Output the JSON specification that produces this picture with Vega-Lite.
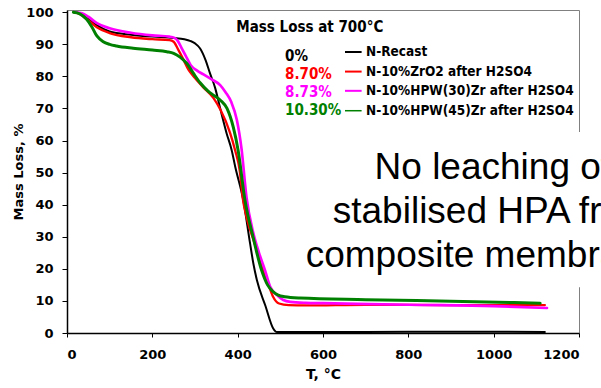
{
  "$schema": "https://vega.github.io/schema/vega-lite/v6.json",
  "width": 512,
  "height": 323,
  "autosize": {"type": "none"},
  "padding": {"left": 67, "top": 10, "right": 22, "bottom": 55},
  "background": "white",
  "config": {
    "view": {"stroke": "#808080", "strokeWidth": 1},
    "axis": {
      "grid": false,
      "domainColor": "black",
      "domainWidth": 1.5,
      "tickColor": "black",
      "tickWidth": 1,
      "labelColor": "black",
      "titleColor": "black",
      "labelFont": "DejaVu Sans",
      "labelFontWeight": "bold",
      "labelFontSize": 13,
      "titleFont": "DejaVu Sans",
      "titleFontWeight": "bold"
    },
    "axisX": {"tickSize": 4, "labelPadding": 11, "titleFontSize": 14, "titlePadding": 6},
    "axisY": {"tickSize": 5, "labelPadding": 9, "titleFontSize": 13, "titlePadding": 0}
  },
  "datasets": {
    "tga": [
      {"series": "N-Recast", "T": 15, "m": 100}, {"series": "N-Recast", "T": 30, "m": 99.6}, {"series": "N-Recast", "T": 50, "m": 97.9}, {"series": "N-Recast", "T": 70, "m": 96}, {"series": "N-Recast", "T": 100, "m": 94}, {"series": "N-Recast", "T": 150, "m": 93}, {"series": "N-Recast", "T": 200, "m": 92.4}, {"series": "N-Recast", "T": 250, "m": 92}, {"series": "N-Recast", "T": 275, "m": 91.6}, {"series": "N-Recast", "T": 290, "m": 91}, {"series": "N-Recast", "T": 300, "m": 90.3}, {"series": "N-Recast", "T": 312, "m": 88.7}, {"series": "N-Recast", "T": 325, "m": 85}, {"series": "N-Recast", "T": 335, "m": 81}, {"series": "N-Recast", "T": 347, "m": 76.5}, {"series": "N-Recast", "T": 360, "m": 69.5}, {"series": "N-Recast", "T": 374, "m": 62.3}, {"series": "N-Recast", "T": 386, "m": 57}, {"series": "N-Recast", "T": 394, "m": 52}, {"series": "N-Recast", "T": 413, "m": 41.5}, {"series": "N-Recast", "T": 429, "m": 28}, {"series": "N-Recast", "T": 437, "m": 21.5}, {"series": "N-Recast", "T": 445, "m": 16.5}, {"series": "N-Recast", "T": 465, "m": 8.5}, {"series": "N-Recast", "T": 483, "m": 1.5}, {"series": "N-Recast", "T": 492, "m": 0.3}, {"series": "N-Recast", "T": 600, "m": 0.3}, {"series": "N-Recast", "T": 800, "m": 0.4}, {"series": "N-Recast", "T": 1000, "m": 0.4}, {"series": "N-Recast", "T": 1120, "m": 0.3},
      {"series": "N-10%ZrO2 after H2SO4", "T": 18, "m": 100}, {"series": "N-10%ZrO2 after H2SO4", "T": 30, "m": 99.5}, {"series": "N-10%ZrO2 after H2SO4", "T": 50, "m": 97.5}, {"series": "N-10%ZrO2 after H2SO4", "T": 70, "m": 95.3}, {"series": "N-10%ZrO2 after H2SO4", "T": 100, "m": 93.5}, {"series": "N-10%ZrO2 after H2SO4", "T": 150, "m": 92.2}, {"series": "N-10%ZrO2 after H2SO4", "T": 200, "m": 91.6}, {"series": "N-10%ZrO2 after H2SO4", "T": 240, "m": 91.3}, {"series": "N-10%ZrO2 after H2SO4", "T": 250, "m": 90.8}, {"series": "N-10%ZrO2 after H2SO4", "T": 260, "m": 88.5}, {"series": "N-10%ZrO2 after H2SO4", "T": 270, "m": 86}, {"series": "N-10%ZrO2 after H2SO4", "T": 285, "m": 82}, {"series": "N-10%ZrO2 after H2SO4", "T": 300, "m": 79.5}, {"series": "N-10%ZrO2 after H2SO4", "T": 320, "m": 76.5}, {"series": "N-10%ZrO2 after H2SO4", "T": 343, "m": 73.3}, {"series": "N-10%ZrO2 after H2SO4", "T": 360, "m": 69.5}, {"series": "N-10%ZrO2 after H2SO4", "T": 382, "m": 62.5}, {"series": "N-10%ZrO2 after H2SO4", "T": 394, "m": 57}, {"series": "N-10%ZrO2 after H2SO4", "T": 405, "m": 50.5}, {"series": "N-10%ZrO2 after H2SO4", "T": 412, "m": 42}, {"series": "N-10%ZrO2 after H2SO4", "T": 421, "m": 36}, {"series": "N-10%ZrO2 after H2SO4", "T": 437, "m": 29}, {"series": "N-10%ZrO2 after H2SO4", "T": 452, "m": 23}, {"series": "N-10%ZrO2 after H2SO4", "T": 470, "m": 16}, {"series": "N-10%ZrO2 after H2SO4", "T": 483, "m": 11.3}, {"series": "N-10%ZrO2 after H2SO4", "T": 497, "m": 9.2}, {"series": "N-10%ZrO2 after H2SO4", "T": 520, "m": 8.7}, {"series": "N-10%ZrO2 after H2SO4", "T": 560, "m": 8.6}, {"series": "N-10%ZrO2 after H2SO4", "T": 700, "m": 8.8}, {"series": "N-10%ZrO2 after H2SO4", "T": 900, "m": 8.7}, {"series": "N-10%ZrO2 after H2SO4", "T": 1120, "m": 8.7},
      {"series": "N-10%HPW(30)Zr after H2SO4", "T": 20, "m": 100}, {"series": "N-10%HPW(30)Zr after H2SO4", "T": 35, "m": 99.7}, {"series": "N-10%HPW(30)Zr after H2SO4", "T": 50, "m": 98.6}, {"series": "N-10%HPW(30)Zr after H2SO4", "T": 70, "m": 96.6}, {"series": "N-10%HPW(30)Zr after H2SO4", "T": 100, "m": 95}, {"series": "N-10%HPW(30)Zr after H2SO4", "T": 150, "m": 93.6}, {"series": "N-10%HPW(30)Zr after H2SO4", "T": 200, "m": 92.8}, {"series": "N-10%HPW(30)Zr after H2SO4", "T": 240, "m": 92.4}, {"series": "N-10%HPW(30)Zr after H2SO4", "T": 252, "m": 92}, {"series": "N-10%HPW(30)Zr after H2SO4", "T": 260, "m": 91}, {"series": "N-10%HPW(30)Zr after H2SO4", "T": 268, "m": 89}, {"series": "N-10%HPW(30)Zr after H2SO4", "T": 278, "m": 86.5}, {"series": "N-10%HPW(30)Zr after H2SO4", "T": 290, "m": 83.5}, {"series": "N-10%HPW(30)Zr after H2SO4", "T": 305, "m": 81.8}, {"series": "N-10%HPW(30)Zr after H2SO4", "T": 320, "m": 80.6}, {"series": "N-10%HPW(30)Zr after H2SO4", "T": 340, "m": 79}, {"series": "N-10%HPW(30)Zr after H2SO4", "T": 359, "m": 77.3}, {"series": "N-10%HPW(30)Zr after H2SO4", "T": 372, "m": 75}, {"series": "N-10%HPW(30)Zr after H2SO4", "T": 385, "m": 72}, {"series": "N-10%HPW(30)Zr after H2SO4", "T": 398, "m": 66.5}, {"series": "N-10%HPW(30)Zr after H2SO4", "T": 409, "m": 57.5}, {"series": "N-10%HPW(30)Zr after H2SO4", "T": 421, "m": 42}, {"series": "N-10%HPW(30)Zr after H2SO4", "T": 437, "m": 31}, {"series": "N-10%HPW(30)Zr after H2SO4", "T": 450, "m": 25}, {"series": "N-10%HPW(30)Zr after H2SO4", "T": 464, "m": 19.6}, {"series": "N-10%HPW(30)Zr after H2SO4", "T": 476, "m": 14.5}, {"series": "N-10%HPW(30)Zr after H2SO4", "T": 492, "m": 11.8}, {"series": "N-10%HPW(30)Zr after H2SO4", "T": 507, "m": 10.3}, {"series": "N-10%HPW(30)Zr after H2SO4", "T": 523, "m": 9.7}, {"series": "N-10%HPW(30)Zr after H2SO4", "T": 560, "m": 9.4}, {"series": "N-10%HPW(30)Zr after H2SO4", "T": 600, "m": 9.3}, {"series": "N-10%HPW(30)Zr after H2SO4", "T": 800, "m": 8.8}, {"series": "N-10%HPW(30)Zr after H2SO4", "T": 1000, "m": 8.4}, {"series": "N-10%HPW(30)Zr after H2SO4", "T": 1125, "m": 7.8},
      {"series": "N-10%HPW(45)Zr after H2SO4", "T": 15, "m": 100}, {"series": "N-10%HPW(45)Zr after H2SO4", "T": 30, "m": 99.5}, {"series": "N-10%HPW(45)Zr after H2SO4", "T": 46, "m": 97.8}, {"series": "N-10%HPW(45)Zr after H2SO4", "T": 58, "m": 95.5}, {"series": "N-10%HPW(45)Zr after H2SO4", "T": 70, "m": 92.6}, {"series": "N-10%HPW(45)Zr after H2SO4", "T": 85, "m": 90.8}, {"series": "N-10%HPW(45)Zr after H2SO4", "T": 100, "m": 90}, {"series": "N-10%HPW(45)Zr after H2SO4", "T": 116, "m": 89.5}, {"series": "N-10%HPW(45)Zr after H2SO4", "T": 155, "m": 88.8}, {"series": "N-10%HPW(45)Zr after H2SO4", "T": 200, "m": 88.2}, {"series": "N-10%HPW(45)Zr after H2SO4", "T": 234, "m": 87.7}, {"series": "N-10%HPW(45)Zr after H2SO4", "T": 250, "m": 87.2}, {"series": "N-10%HPW(45)Zr after H2SO4", "T": 265, "m": 86}, {"series": "N-10%HPW(45)Zr after H2SO4", "T": 281, "m": 84}, {"series": "N-10%HPW(45)Zr after H2SO4", "T": 296, "m": 81}, {"series": "N-10%HPW(45)Zr after H2SO4", "T": 312, "m": 78}, {"series": "N-10%HPW(45)Zr after H2SO4", "T": 330, "m": 75.5}, {"series": "N-10%HPW(45)Zr after H2SO4", "T": 345, "m": 74}, {"series": "N-10%HPW(45)Zr after H2SO4", "T": 360, "m": 72.5}, {"series": "N-10%HPW(45)Zr after H2SO4", "T": 375, "m": 70}, {"series": "N-10%HPW(45)Zr after H2SO4", "T": 390, "m": 64}, {"series": "N-10%HPW(45)Zr after H2SO4", "T": 401, "m": 57}, {"series": "N-10%HPW(45)Zr after H2SO4", "T": 417, "m": 41.5}, {"series": "N-10%HPW(45)Zr after H2SO4", "T": 436, "m": 30}, {"series": "N-10%HPW(45)Zr after H2SO4", "T": 456, "m": 19.6}, {"series": "N-10%HPW(45)Zr after H2SO4", "T": 470, "m": 15}, {"series": "N-10%HPW(45)Zr after H2SO4", "T": 482, "m": 13}, {"series": "N-10%HPW(45)Zr after H2SO4", "T": 495, "m": 11.8}, {"series": "N-10%HPW(45)Zr after H2SO4", "T": 510, "m": 11.3}, {"series": "N-10%HPW(45)Zr after H2SO4", "T": 546, "m": 10.9}, {"series": "N-10%HPW(45)Zr after H2SO4", "T": 700, "m": 10.4}, {"series": "N-10%HPW(45)Zr after H2SO4", "T": 900, "m": 9.9}, {"series": "N-10%HPW(45)Zr after H2SO4", "T": 1109, "m": 9.3}
    ],
    "one": [{}]
  },
  "layer": [
    {
      "data": {"name": "tga"},
      "mark": {"type": "line", "interpolate": "monotone", "strokeCap": "round", "strokeJoin": "round"},
      "encoding": {
        "x": {"field": "T", "type": "quantitative", "scale": {"domain": [0, 1200], "nice": false},
          "axis": {"values": [0, 200, 400, 600, 800, 1000, 1200], "format": "d", "title": "T, °C"}},
        "y": {"field": "m", "type": "quantitative", "scale": {"domain": [0, 100.7], "nice": false},
          "axis": {"values": [0, 10, 20, 30, 40, 50, 60, 70, 80, 90, 100], "format": "d", "title": "Mass Loss, %"}},
        "color": {"field": "series", "type": "nominal", "legend": null,
          "scale": {"domain": ["N-Recast", "N-10%ZrO2 after H2SO4", "N-10%HPW(30)Zr after H2SO4", "N-10%HPW(45)Zr after H2SO4"], "range": ["#000000", "#FF0000", "#FF00FF", "#008000"]}},
        "strokeWidth": {"field": "series", "type": "nominal", "legend": null,
          "scale": {"domain": ["N-Recast", "N-10%ZrO2 after H2SO4", "N-10%HPW(30)Zr after H2SO4", "N-10%HPW(45)Zr after H2SO4"], "range": [2, 3, 3, 1.6]}}
      }
    },
    {
      "data": {"name": "one"},
      "mark": {"type": "rect", "fill": "white"},
      "encoding": {
        "x": {"datum": 546, "type": "quantitative", "axis": {"values": [0, 200, 400, 600, 800, 1000, 1200], "format": "d", "title": "T, °C"}},
        "x2": {"datum": 1400},
        "y": {"datum": 62.7, "type": "quantitative", "axis": {"values": [0, 10, 20, 30, 40, 50, 60, 70, 80, 90, 100], "format": "d", "title": "Mass Loss, %"}},
        "y2": {"datum": 14.3}
      }
    },
    {
      "data": {"name": "one"},
      "mark": {"type": "text", "font": "Liberation Sans", "fontSize": 37, "align": "center", "baseline": "alphabetic", "lineHeight": 44, "color": "black"},
      "encoding": {
        "x": {"datum": 998, "type": "quantitative", "axis": {"values": [0, 200, 400, 600, 800, 1000, 1200], "format": "d", "title": "T, °C"}},
        "y": {"datum": 48, "type": "quantitative", "axis": {"values": [0, 10, 20, 30, 40, 50, 60, 70, 80, 90, 100], "format": "d", "title": "Mass Loss, %"}},
        "text": {"value": ["No leaching of", "stabilised HPA from", "composite membranes"]}
      }
    },
    {
      "data": {"name": "one"},
      "mark": {"type": "text", "font": "DejaVu Sans Condensed", "fontWeight": "bold", "fontSize": 15, "align": "center", "baseline": "middle", "color": "black"},
      "encoding": {
        "x": {"datum": 569, "type": "quantitative", "axis": {"values": [0, 200, 400, 600, 800, 1000, 1200], "format": "d", "title": "T, °C"}},
        "y": {"datum": 95.3, "type": "quantitative", "axis": {"values": [0, 10, 20, 30, 40, 50, 60, 70, 80, 90, 100], "format": "d", "title": "Mass Loss, %"}},
        "text": {"value": "Mass Loss at 700°C"}
      }
    },
    {
      "data": {"name": "one"},
      "mark": {"type": "text", "font": "DejaVu Sans Condensed", "fontWeight": "bold", "fontSize": 15, "align": "left", "baseline": "middle", "color": "#000000"},
      "encoding": {
        "x": {"datum": 511, "type": "quantitative", "axis": {"values": [0, 200, 400, 600, 800, 1000, 1200], "format": "d", "title": "T, °C"}},
        "y": {"datum": 86.3, "type": "quantitative", "axis": {"values": [0, 10, 20, 30, 40, 50, 60, 70, 80, 90, 100], "format": "d", "title": "Mass Loss, %"}},
        "text": {"value": "0%"}
      }
    },
    {
      "data": {"name": "one"},
      "mark": {"type": "text", "font": "DejaVu Sans Condensed", "fontWeight": "bold", "fontSize": 15, "align": "left", "baseline": "middle", "color": "#FF0000"},
      "encoding": {
        "x": {"datum": 511, "type": "quantitative", "axis": {"values": [0, 200, 400, 600, 800, 1000, 1200], "format": "d", "title": "T, °C"}},
        "y": {"datum": 80.7, "type": "quantitative", "axis": {"values": [0, 10, 20, 30, 40, 50, 60, 70, 80, 90, 100], "format": "d", "title": "Mass Loss, %"}},
        "text": {"value": "8.70%"}
      }
    },
    {
      "data": {"name": "one"},
      "mark": {"type": "text", "font": "DejaVu Sans Condensed", "fontWeight": "bold", "fontSize": 15, "align": "left", "baseline": "middle", "color": "#FF00FF"},
      "encoding": {
        "x": {"datum": 511, "type": "quantitative", "axis": {"values": [0, 200, 400, 600, 800, 1000, 1200], "format": "d", "title": "T, °C"}},
        "y": {"datum": 75.0, "type": "quantitative", "axis": {"values": [0, 10, 20, 30, 40, 50, 60, 70, 80, 90, 100], "format": "d", "title": "Mass Loss, %"}},
        "text": {"value": "8.73%"}
      }
    },
    {
      "data": {"name": "one"},
      "mark": {"type": "text", "font": "DejaVu Sans Condensed", "fontWeight": "bold", "fontSize": 15, "align": "left", "baseline": "middle", "color": "#008000"},
      "encoding": {
        "x": {"datum": 511, "type": "quantitative", "axis": {"values": [0, 200, 400, 600, 800, 1000, 1200], "format": "d", "title": "T, °C"}},
        "y": {"datum": 69.6, "type": "quantitative", "axis": {"values": [0, 10, 20, 30, 40, 50, 60, 70, 80, 90, 100], "format": "d", "title": "Mass Loss, %"}},
        "text": {"value": "10.30%"}
      }
    },
    {
      "data": {"name": "one"},
      "mark": {"type": "rule", "color": "#000000", "strokeWidth": 2},
      "encoding": {
        "x": {"datum": 651.5, "type": "quantitative", "axis": {"values": [0, 200, 400, 600, 800, 1000, 1200], "format": "d", "title": "T, °C"}},
        "x2": {"datum": 690.5},
        "y": {"datum": 87.6, "type": "quantitative", "axis": {"values": [0, 10, 20, 30, 40, 50, 60, 70, 80, 90, 100], "format": "d", "title": "Mass Loss, %"}}
      }
    },
    {
      "data": {"name": "one"},
      "mark": {"type": "rule", "color": "#FF0000", "strokeWidth": 2},
      "encoding": {
        "x": {"datum": 651.5, "type": "quantitative", "axis": {"values": [0, 200, 400, 600, 800, 1000, 1200], "format": "d", "title": "T, °C"}},
        "x2": {"datum": 690.5},
        "y": {"datum": 81.5, "type": "quantitative", "axis": {"values": [0, 10, 20, 30, 40, 50, 60, 70, 80, 90, 100], "format": "d", "title": "Mass Loss, %"}}
      }
    },
    {
      "data": {"name": "one"},
      "mark": {"type": "rule", "color": "#FF00FF", "strokeWidth": 2},
      "encoding": {
        "x": {"datum": 651.5, "type": "quantitative", "axis": {"values": [0, 200, 400, 600, 800, 1000, 1200], "format": "d", "title": "T, °C"}},
        "x2": {"datum": 690.5},
        "y": {"datum": 75.5, "type": "quantitative", "axis": {"values": [0, 10, 20, 30, 40, 50, 60, 70, 80, 90, 100], "format": "d", "title": "Mass Loss, %"}}
      }
    },
    {
      "data": {"name": "one"},
      "mark": {"type": "rule", "color": "#008000", "strokeWidth": 1.5},
      "encoding": {
        "x": {"datum": 651.5, "type": "quantitative", "axis": {"values": [0, 200, 400, 600, 800, 1000, 1200], "format": "d", "title": "T, °C"}},
        "x2": {"datum": 690.5},
        "y": {"datum": 69.3, "type": "quantitative", "axis": {"values": [0, 10, 20, 30, 40, 50, 60, 70, 80, 90, 100], "format": "d", "title": "Mass Loss, %"}}
      }
    },
    {
      "data": {"name": "one"},
      "mark": {"type": "text", "font": "DejaVu Sans Condensed", "fontWeight": "bold", "fontSize": 13.5, "align": "left", "baseline": "middle", "color": "black"},
      "encoding": {
        "x": {"datum": 700.7, "type": "quantitative", "axis": {"values": [0, 200, 400, 600, 800, 1000, 1200], "format": "d", "title": "T, °C"}},
        "y": {"datum": 87.5, "type": "quantitative", "axis": {"values": [0, 10, 20, 30, 40, 50, 60, 70, 80, 90, 100], "format": "d", "title": "Mass Loss, %"}},
        "text": {"value": "N-Recast"}
      }
    },
    {
      "data": {"name": "one"},
      "mark": {"type": "text", "font": "DejaVu Sans Condensed", "fontWeight": "bold", "fontSize": 13.5, "align": "left", "baseline": "middle", "color": "black"},
      "encoding": {
        "x": {"datum": 700.7, "type": "quantitative", "axis": {"values": [0, 200, 400, 600, 800, 1000, 1200], "format": "d", "title": "T, °C"}},
        "y": {"datum": 81.4, "type": "quantitative", "axis": {"values": [0, 10, 20, 30, 40, 50, 60, 70, 80, 90, 100], "format": "d", "title": "Mass Loss, %"}},
        "text": {"value": "N-10%ZrO2 after H2SO4"}
      }
    },
    {
      "data": {"name": "one"},
      "mark": {"type": "text", "font": "DejaVu Sans Condensed", "fontWeight": "bold", "fontSize": 13.5, "align": "left", "baseline": "middle", "color": "black"},
      "encoding": {
        "x": {"datum": 700.7, "type": "quantitative", "axis": {"values": [0, 200, 400, 600, 800, 1000, 1200], "format": "d", "title": "T, °C"}},
        "y": {"datum": 75.4, "type": "quantitative", "axis": {"values": [0, 10, 20, 30, 40, 50, 60, 70, 80, 90, 100], "format": "d", "title": "Mass Loss, %"}},
        "text": {"value": "N-10%HPW(30)Zr after H2SO4"}
      }
    },
    {
      "data": {"name": "one"},
      "mark": {"type": "text", "font": "DejaVu Sans Condensed", "fontWeight": "bold", "fontSize": 13.5, "align": "left", "baseline": "middle", "color": "black"},
      "encoding": {
        "x": {"datum": 700.7, "type": "quantitative", "axis": {"values": [0, 200, 400, 600, 800, 1000, 1200], "format": "d", "title": "T, °C"}},
        "y": {"datum": 69.2, "type": "quantitative", "axis": {"values": [0, 10, 20, 30, 40, 50, 60, 70, 80, 90, 100], "format": "d", "title": "Mass Loss, %"}},
        "text": {"value": "N-10%HPW(45)Zr after H2SO4"}
      }
    }
  ]
}
